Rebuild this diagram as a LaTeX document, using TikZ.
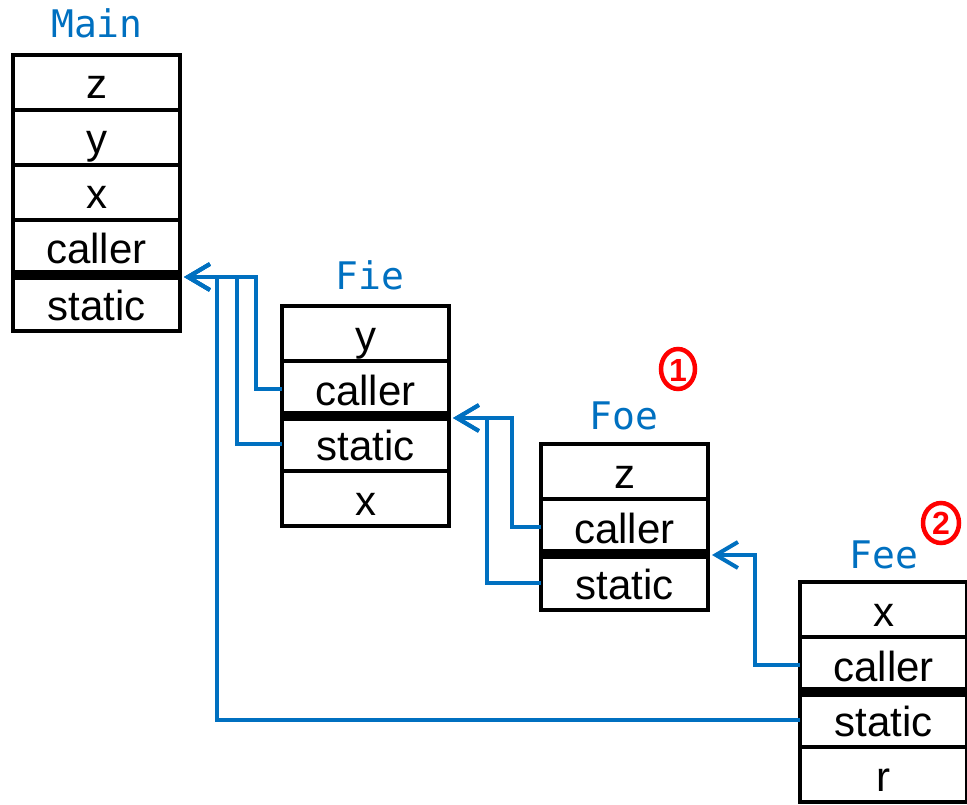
\documentclass[tikz,border=0pt]{standalone}
\usepackage{fontspec}
\setmainfont{Liberation Sans}
\newfontfamily\monofont{DejaVu Sans Mono}
\usetikzlibrary{arrows.meta,calc}
\definecolor{blu}{HTML}{0070C0}
\begin{document}
\begin{tikzpicture}[x=1pt,y=-1pt,
  cell/.style={draw=black,line width=4pt,minimum width=167pt,minimum height=55pt,
    inner sep=0pt,outer sep=0pt,anchor=north west,text height=33pt,text depth=0pt,
    font=\fontsize{42}{42}\selectfont},
  ttl/.style={anchor=base,text=blu,inner sep=0pt,font=\monofont\fontsize{38}{38}\selectfont},
  sep/.style={line width=9.5pt,line cap=butt},
  conn/.style={draw=blu,line width=4pt,-{Straight Barb[length=22pt,width=26pt,line width=4pt]}},
  redmark/.style={text=red,inner sep=0pt,font=\fontsize{32}{32}\selectfont\bfseries},
]
\useasboundingbox (0,0) rectangle (967,805);
% Main
\node[ttl] (tmain) at (97,38) {Main};
\node[cell] (m1) at (13,55) {z};
\node[cell] (m2) at (13,110) {y};
\node[cell] (m3) at (13,165) {x};
\node[cell] (m4) at (13,220) {caller};
\node[cell] (m5) at (13,276) {static};
\draw[sep] ($(m4.south west)+(-2,0)$) -- ($(m4.south east)+(2,0)$);
% Fie
\node[ttl] (tfie) at (370,290) {Fie};
\node[cell] (f1) at (282,306) {y};
\node[cell] (f2) at (282,361) {caller};
\node[cell] (f3) at (282,416) {static};
\node[cell] (f4) at (282,471) {x};
\draw[sep] ($(f2.south west)+(-2,0)$) -- ($(f2.south east)+(2,0)$);
% Foe
\node[ttl] (tfoe) at (624,429) {Foe};
\node[cell] (o1) at (541,444) {z};
\node[cell] (o2) at (541,499) {caller};
\node[cell] (o3) at (541,555) {static};
\draw[sep] ($(o2.south west)+(-2,0)$) -- ($(o2.south east)+(2,0)$);
% Fee
\node[ttl] (tfee) at (884,568) {Fee};
\node[cell] (e1) at (800,582) {x};
\node[cell] (e2) at (800,637) {caller};
\node[cell] (e3) at (800,692) {static};
\node[cell] (e4) at (800,747) {r};
\draw[sep] ($(e2.south west)+(-2,0)$) -- ($(e2.south east)+(2,0)$);
% targets
\coordinate (mainin) at ($(m4.south east)+(4,2)$);
\coordinate (fiein) at ($(f2.south east)+(4,2)$);
\coordinate (foein) at ($(o2.south east)+(4,1)$);
% connectors
\draw[conn] (e3.west) -- ++(-583,0) |- (mainin);
\draw[conn] (f3.west) -- ++(-45,0) |- (mainin);
\draw[conn] (f2.west) -- ++(-26,0) |- (mainin);
\draw[conn] (o3.west) -- ++(-54,0) |- (fiein);
\draw[conn] (o2.west) -- ++(-29,0) |- (fiein);
\draw[conn] (e2.west) -- ++(-45,0) |- (foein);
% red marks
\draw[draw=red,line width=4.5pt] (678,369) ellipse [x radius=17pt, y radius=20pt];
\node[redmark] (n1) at (678,370) {1};
\draw[draw=red,line width=4.5pt] (941,523) ellipse [x radius=18pt, y radius=20pt];
\node[redmark] (n2) at (941,523) {2};
\end{tikzpicture}
\end{document}
